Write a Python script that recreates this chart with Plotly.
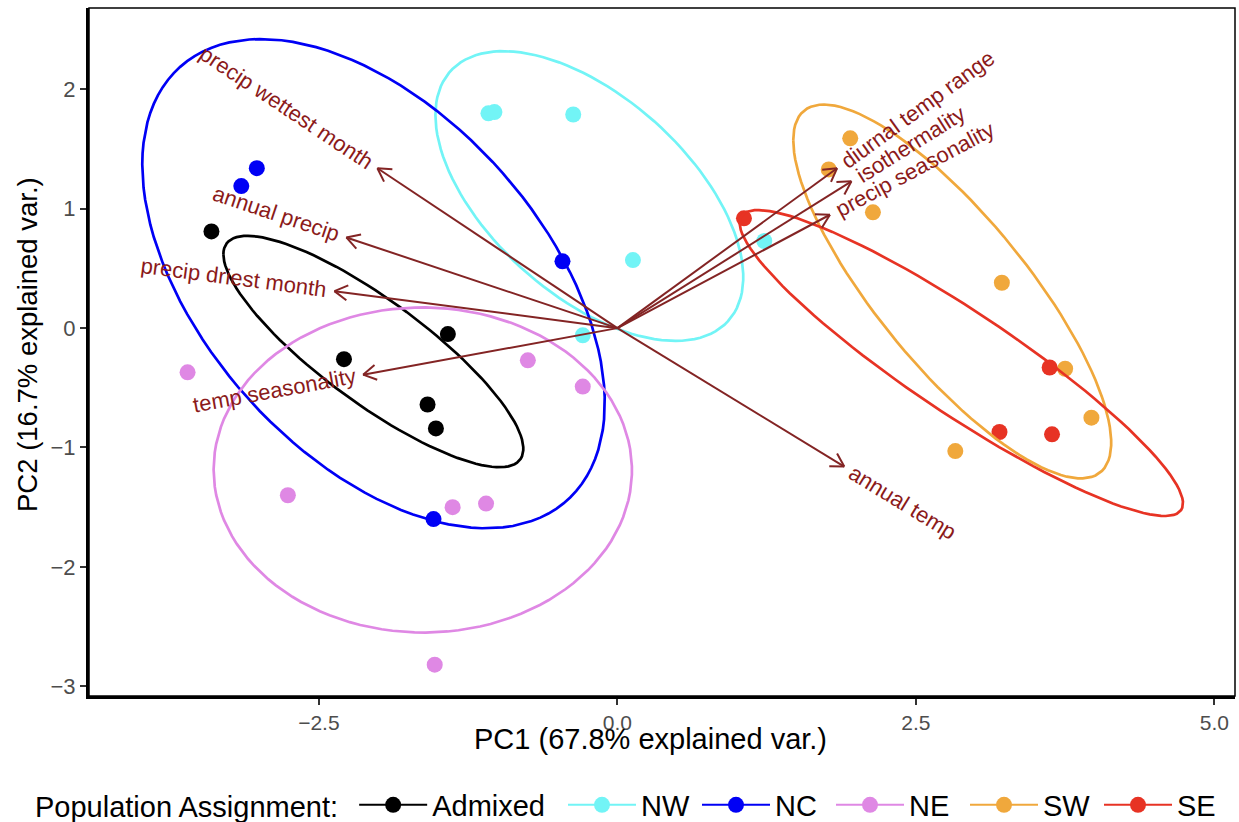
import numpy as np
import plotly.graph_objects as go

# ---------------- data ----------------
groups = ["Admixed", "NW", "NC", "NE", "SW", "SE"]
group_colors = ["#000000", "#72F4F6", "#0000F5", "#DF88E4", "#F0A83C", "#E73324"]

admixed_pc1 = [-3.40, -2.29, -1.42, -1.59, -1.52]
admixed_pc2 = [0.81, -0.26, -0.05, -0.64, -0.84]

nw_pc1 = [-1.08, -1.03, -0.37, 0.13, -0.29, 1.23]
nw_pc2 = [1.80, 1.81, 1.79, 0.57, -0.06, 0.73]

nc_pc1 = [-3.15, -3.02, -0.46, -1.54]
nc_pc2 = [1.19, 1.34, 0.56, -1.60]

ne_pc1 = [-3.60, -2.76, -1.38, -1.10, -1.53, -0.75, -0.29]
ne_pc2 = [-0.37, -1.40, -1.50, -1.47, -2.82, -0.27, -0.49]

sw_pc1 = [1.95, 1.77, 2.14, 3.22, 3.75, 3.97, 2.83]
sw_pc2 = [1.59, 1.33, 0.97, 0.38, -0.34, -0.75, -1.03]

se_pc1 = [1.06, 3.62, 3.20, 3.64]
se_pc2 = [0.92, -0.33, -0.87, -0.89]

group_pc1 = [admixed_pc1, nw_pc1, nc_pc1, ne_pc1, sw_pc1, se_pc1]
group_pc2 = [admixed_pc2, nw_pc2, nc_pc2, ne_pc2, sw_pc2, se_pc2]

var_names = ["precip wettest month", "annual precip", "precip driest month",
             "temp seasonality", "annual temp", "diurnal temp range",
             "isothermality", "precip seasonality"]
var_pc1 = [-2.01, -2.27, -2.37, -2.13, 1.90, 1.84, 1.96, 1.78]
var_pc2 = [1.34, 0.76, 0.31, -0.39, -1.16, 1.34, 1.23, 0.95]

x_ticks = [-2.5, 0.0, 2.5, 5.0]
x_ticktext = ["\u22122.5", "0.0", "2.5", "5.0"]
y_ticks = [-3, -2, -1, 0, 1, 2]
y_ticktext = ["\u22123", "\u22122", "\u22121", "0", "1", "2"]

x_title = "PC1 (67.8% explained var.)"
y_title = "PC2 (16.7% explained var.)"
legend_title = "Population Assignment:"

ellipse_prob = 0.68

# ---------------- layout geometry ----------------
W, H = 1239, 822
ml, mr, mt, mb = 89, 4, 8, 126
x_range = [-4.4255, 5.1725]
y_range = [-3.0822, 2.6823]
px_per_unit = (W - ml - mr) / (x_range[1] - x_range[0])

FONT = "Liberation Sans, Arial, Helvetica, sans-serif"
ARROW_COLOR = "#832424"
LABEL_COLOR = "#8B1A1A"
LABEL_SIZE = 22

# Helvetica-like widths for label placement
_cw = {'a': 556, 'b': 556, 'c': 500, 'd': 556, 'e': 556, 'f': 278, 'g': 556, 'h': 556,
       'i': 222, 'j': 222, 'k': 500, 'l': 222, 'm': 833, 'n': 556, 'o': 556, 'p': 556,
       'q': 556, 'r': 333, 's': 500, 't': 278, 'u': 556, 'v': 500, 'w': 722, 'x': 500,
       'y': 500, 'z': 500, ' ': 278}


def text_width(s, size):
    return sum(_cw.get(c, 556) for c in s) / 1000.0 * size


def ellipse_path(xs, ys, prob):
    pts = np.column_stack([xs, ys])
    sigma = np.cov(pts, rowvar=False)
    mu = pts.mean(axis=0)
    ed = np.sqrt(-2.0 * np.log(1.0 - prob))  # sqrt(qchisq(prob, 2))
    theta = np.linspace(-np.pi, np.pi, 120)
    circle = np.column_stack([np.cos(theta), np.sin(theta)])
    L = np.linalg.cholesky(sigma)
    e = circle @ L.T * ed + mu
    return e[:, 0], e[:, 1]


fig = go.Figure()

# points
for g, c, xs, ys in zip(groups, group_colors, group_pc1, group_pc2):
    fig.add_trace(go.Scatter(x=xs, y=ys, mode="markers", showlegend=False,
                             marker=dict(color=c, size=16, line=dict(width=0)),
                             hoverinfo="skip"))

# ellipses
for g, c, xs, ys in zip(groups, group_colors, group_pc1, group_pc2):
    ex, ey = ellipse_path(xs, ys, ellipse_prob)
    fig.add_trace(go.Scatter(x=ex, y=ey, mode="lines", showlegend=False,
                             line=dict(color=c, width=2.7), hoverinfo="skip"))

# variable arrows
head_len = 15.0 / px_per_unit
head_ang = np.deg2rad(30)
ax_, ay_ = [], []
for vx, vy in zip(var_pc1, var_pc2):
    d = np.arctan2(vy, vx)
    ax_ += [0, vx, None]
    ay_ += [0, vy, None]
    for s in (1, -1):
        a = d + np.pi + s * head_ang
        ax_ += [vx + head_len * np.cos(a), vx, None]
        ay_ += [vy + head_len * np.sin(a), vy, None]
fig.add_trace(go.Scatter(x=ax_, y=ay_, mode="lines", showlegend=False,
                         line=dict(color=ARROW_COLOR, width=2), hoverinfo="skip"))

# legend entries (first entry in legend with title, the rest in legend2)
for i, (g, c) in enumerate(zip(groups, group_colors)):
    fig.add_trace(go.Scatter(x=[None], y=[None], mode="lines+markers", name=g,
                             legend="legend" if i == 0 else "legend2",
                             legendwidth=126 if i == 0 else 51,
                             line=dict(color=c, width=2),
                             marker=dict(color=c, size=16)))

annotations = []
# variable labels
gap = 8
for name, vx, vy in zip(var_names, var_pc1, var_pc2):
    w = text_width(name, LABEL_SIZE)
    n = np.hypot(vx, vy)
    ux, uy = vx / n, vy / n
    dist = gap + w / 2
    ang = np.degrees(np.arctan(vy / vx))
    annotations.append(dict(x=vx, y=vy, xref="x", yref="y", text=name, showarrow=False,
                            xanchor="center", yanchor="middle",
                            xshift=dist * ux, yshift=dist * uy, textangle=-ang,
                            font=dict(family=FONT, size=LABEL_SIZE, color=LABEL_COLOR)))

plot_w = W - ml - mr
plot_h = H - mt - mb


def px_to_paper_x(px):
    return (px - ml) / plot_w


def px_to_paper_y(py):
    return (H - mb - py) / plot_h


annotations.append(dict(x=px_to_paper_x(650), y=px_to_paper_y(739), xref="paper", yref="paper",
                        text=x_title, showarrow=False, xanchor="center", yanchor="middle",
                        font=dict(family=FONT, size=29, color="#000000")))
annotations.append(dict(x=px_to_paper_x(27), y=px_to_paper_y(345), xref="paper", yref="paper",
                        text=y_title, showarrow=False, xanchor="center", yanchor="middle",
                        textangle=-90, font=dict(family=FONT, size=27.5, color="#000000")))

legend_common = dict(orientation="h", yanchor="middle", xanchor="left",
                     font=dict(size=29, family=FONT), itemwidth=68,
                     bgcolor="rgba(0,0,0,0)")

fig.update_layout(
    width=W, height=H,
    margin=dict(l=ml, r=mr, t=mt, b=mb, autoexpand=False),
    paper_bgcolor="white", plot_bgcolor="white",
    font=dict(family=FONT, color="#000000"),
    annotations=annotations,
    showlegend=True,
    legend=dict(x=px_to_paper_x(33), y=px_to_paper_y(805),
                title=dict(text=legend_title + " ", side="left",
                           font=dict(size=29, family=FONT)),
                **legend_common),
    legend2=dict(x=px_to_paper_x(563), y=px_to_paper_y(805), **legend_common),
    xaxis=dict(range=x_range, showgrid=False, zeroline=False,
               tickvals=x_ticks, ticktext=x_ticktext,
               ticks="outside", ticklen=6, tickwidth=1.5, tickcolor="#333333",
               tickfont=dict(family=FONT, size=21, color="#4D4D4D"),
               showline=True, linecolor="#000000", linewidth=3, mirror=False),
    yaxis=dict(range=y_range, showgrid=False, zeroline=False,
               tickvals=y_ticks, ticktext=y_ticktext,
               ticks="outside", ticklen=6, tickwidth=1.5, tickcolor="#333333",
               tickfont=dict(family=FONT, size=22, color="#4D4D4D"),
               showline=True, linecolor="#000000", linewidth=3, mirror=False),
    shapes=[dict(type="rect", xref="paper", yref="paper", x0=0, y0=0, x1=1, y1=1,
                 line=dict(color="#000000", width=1.5), fillcolor="rgba(0,0,0,0)",
                 layer="above")],
)

fig.write_html("out.html")
